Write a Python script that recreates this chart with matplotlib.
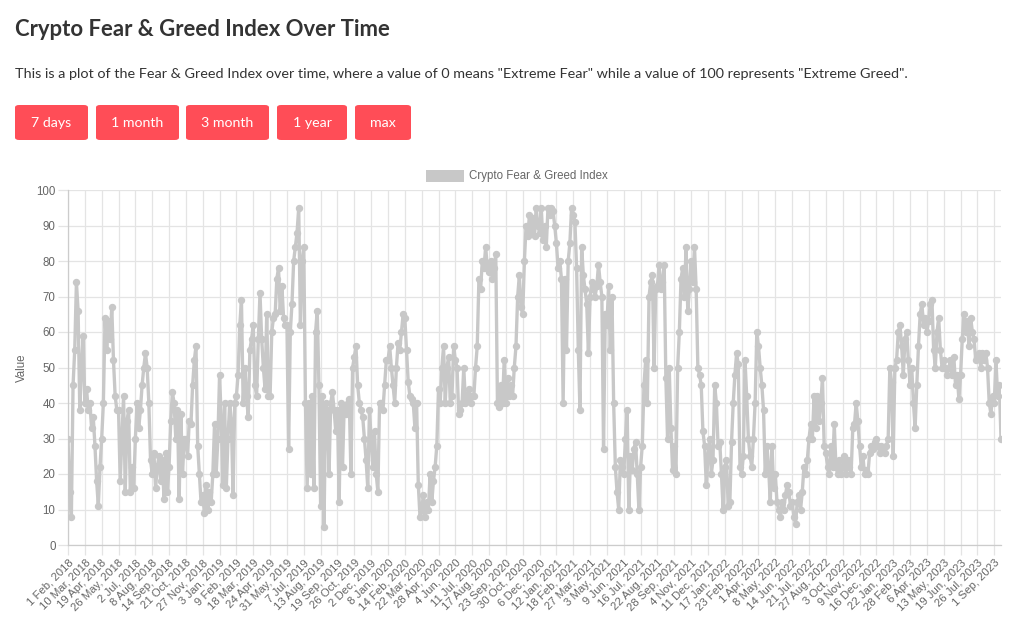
import matplotlib
matplotlib.use("Agg")
import matplotlib.pyplot as plt
from matplotlib.patches import FancyBboxPatch
import numpy as np

# x-axis tick labels (Chart.js auto-skipped category labels)
tick_labels = [
    "1 Feb, 2018", "10 Mar, 2018", "19 Apr, 2018", "26 May, 2018", "2 Jul, 2018",
    "8 Aug, 2018", "14 Sep, 2018", "21 Oct, 2018", "27 Nov, 2018", "3 Jan, 2019",
    "9 Feb, 2019", "18 Mar, 2019", "24 Apr, 2019", "31 May, 2019", "7 Jul, 2019",
    "13 Aug, 2019", "19 Sep, 2019", "26 Oct, 2019", "2 Dec, 2019", "8 Jan, 2020",
    "14 Feb, 2020", "22 Mar, 2020", "28 Apr, 2020", "4 Jun, 2020", "11 Jul, 2020",
    "17 Aug, 2020", "23 Sep, 2020", "30 Oct, 2020", "6 Dec, 2020", "12 Jan, 2021",
    "18 Feb, 2021", "27 Mar, 2021", "3 May, 2021", "9 Jun, 2021", "16 Jul, 2021",
    "22 Aug, 2021", "28 Sep, 2021", "4 Nov, 2021", "11 Dec, 2021", "17 Jan, 2022",
    "23 Feb, 2022", "1 Apr, 2022", "8 May, 2022", "14 Jun, 2022", "21 Jul, 2022",
    "27 Aug, 2022", "3 Oct, 2022", "9 Nov, 2022", "16 Dec, 2022", "22 Jan, 2023",
    "28 Feb, 2023", "6 Apr, 2023", "13 May, 2023", "19 Jun, 2023", "26 Jul, 2023",
    "1 Sep, 2023",
]
points_per_tick = 10

# index values, one row per labelled interval
fng_values = [
    30, 15, 8, 45, 55, 74, 66, 38, 50, 59,
    40, 44, 38, 40, 33, 36, 28, 18, 11, 22,
    30, 40, 64, 55, 63, 58, 67, 52, 42, 38,
    38, 18, 30, 42, 15, 35, 38, 15, 22, 16,
    30, 40, 33, 38, 45, 50, 54, 50, 40, 24,
    20, 26, 16, 22, 25, 18, 24, 13, 26, 15,
    22, 35, 43, 40, 30, 38, 13, 37, 20, 30,
    30, 25, 35, 34, 45, 52, 56, 28, 20, 12,
    14, 9, 17, 10, 15, 12, 20, 34, 20, 30,
    48, 35, 17, 40, 16, 30, 40, 35, 14, 40,
    42, 48, 62, 69, 40, 50, 42, 36, 55, 58,
    62, 45, 42, 58, 71, 58, 50, 44, 65, 42,
    42, 60, 64, 65, 75, 78, 66, 73, 64, 62,
    62, 27, 60, 68, 80, 84, 88, 95, 62, 80,
    84, 40, 16, 40, 20, 42, 16, 60, 66, 45,
    11, 42, 5, 40, 38, 20, 40, 43, 38, 32,
    38, 12, 40, 22, 39, 37, 40, 41, 20, 50,
    53, 56, 45, 40, 38, 36, 30, 24, 16, 38,
    30, 22, 32, 20, 15, 40, 40, 38, 45, 52,
    52, 56, 50, 45, 40, 50, 57, 55, 60, 65,
    64, 55, 46, 42, 41, 40, 33, 40, 17, 8,
    10, 14, 8, 12, 10, 20, 12, 18, 22, 28,
    44, 40, 50, 56, 40, 50, 53, 40, 42, 56,
    52, 50, 37, 38, 40, 50, 40, 41, 44, 40,
    42, 42, 50, 56, 75, 72, 80, 78, 84, 78,
    77, 80, 75, 78, 82, 40, 39, 45, 40, 52,
    40, 47, 42, 45, 42, 50, 56, 70, 76, 67,
    65, 80, 90, 87, 93, 88, 92, 87, 95, 90,
    88, 95, 86, 90, 84, 95, 93, 95, 94, 90,
    85, 78, 80, 75, 40, 75, 55, 80, 85, 95,
    93, 91, 78, 55, 38, 84, 76, 72, 68, 54,
    70, 74, 72, 70, 73, 79, 74, 70, 27, 65,
    62, 73, 55, 70, 40, 22, 15, 10, 24, 22,
    20, 30, 38, 10, 25, 21, 27, 29, 20, 10,
    22, 28, 45, 52, 40, 70, 74, 76, 50, 72,
    73, 79, 72, 74, 79, 47, 30, 50, 33, 21,
    28, 20, 50, 60, 75, 78, 70, 84, 66, 72,
    80, 74, 84, 72, 50, 48, 45, 32, 28, 17,
    25, 30, 20, 24, 45, 40, 28, 29, 20, 10,
    22, 24, 11, 12, 29, 40, 48, 54, 51, 22,
    20, 25, 52, 42, 30, 25, 22, 30, 40, 60,
    56, 50, 45, 38, 20, 28, 22, 12, 28, 16,
    20, 12, 10, 8, 12, 10, 14, 17, 15, 11,
    12, 8, 6, 12, 14, 10, 15, 22, 20, 24,
    30, 34, 30, 42, 33, 42, 35, 40, 47, 28,
    26, 22, 20, 28, 22, 34, 22, 20, 24, 20,
    22, 25, 20, 24, 22, 20, 33, 34, 40, 35,
    28, 22, 25, 20, 21, 20, 26, 28, 27, 29,
    30, 28, 26, 28, 27, 26, 28, 30, 50, 46,
    25, 50, 52, 60, 62, 56, 48, 58, 60, 52,
    45, 50, 40, 33, 45, 56, 65, 68, 62, 64,
    60, 63, 68, 69, 55, 50, 60, 64, 55, 50,
    52, 50, 48, 50, 52, 48, 53, 45, 48, 41,
    48, 58, 65, 60, 63, 56, 64, 60, 58, 52,
    53, 54, 50, 54, 52, 54, 50, 40, 37, 42,
    40, 52, 42, 45, 30,
]

button_labels = ["7 days", "1 month", "3 month", "1 year", "max"]

LINE_GREY = "#c8c8c8"
TEXT_DARK = "#333333"
AXIS_TEXT = "#666666"
GRID = "#e4e4e4"
BUTTON_RED = "#ff4d57"

W, H = 1024, 625
fig = plt.figure(figsize=(W / 100, H / 100), dpi=100)
fig.patch.set_facecolor("white")


def fx(px):
    return px / W


def fy(py):
    return 1 - py / H


# page header
fig.text(fx(15), fy(29), "Crypto Fear & Greed Index Over Time", fontsize=15.9,
         fontweight="bold", color=TEXT_DARK, family="Lato", va="center")
fig.text(fx(15), fy(74),
         'This is a plot of the Fear & Greed Index over time, where a value of 0 '
         'means "Extreme Fear" while a value of 100 represents "Extreme Greed".',
         fontsize=10.4, color=TEXT_DARK, family="Lato", va="center")

# buttons (left edge, width in px)
button_boxes = [(15, 73), (96, 83), (186, 83), (277, 70), (355, 56)]
for label, (bx, bw) in zip(button_labels, button_boxes):
    patch = FancyBboxPatch((fx(bx), fy(140)), fx(bw), 35 / H,
                           boxstyle="round,pad=0,rounding_size=0.004",
                           transform=fig.transFigure, facecolor=BUTTON_RED,
                           edgecolor="none")
    fig.patches.append(patch)
    fig.text(fx(bx + bw / 2), fy(123), label, fontsize=10.2, color="white",
             family="Lato", ha="center", va="center")

# chart area
ax = fig.add_axes([fx(68), fy(545), fx(1001 - 68), (545 - 190) / H])
x = np.arange(len(fng_values))
ax.plot(x, fng_values, color=LINE_GREY, linewidth=2.4, marker="o",
        markersize=4.3, markerfacecolor=LINE_GREY, markeredgecolor=LINE_GREY,
        label="Crypto Fear & Greed Index", zorder=3)

ax.set_xlim(0, len(fng_values) - 1)
ax.set_ylim(0, 100)
ax.set_yticks(np.arange(0, 101, 10))
ax.set_xticks(np.arange(len(tick_labels)) * points_per_tick)
ax.set_xticklabels(tick_labels, rotation=45, ha="right", rotation_mode="anchor",
                   family="Liberation Sans", fontsize=8.2, color=AXIS_TEXT)
for lab in ax.get_yticklabels():
    lab.set_family("Liberation Sans")
    lab.set_fontsize(8.3)
    lab.set_color(AXIS_TEXT)

ax.grid(True, color=GRID, linewidth=0.9)
ax.set_axisbelow(True)
ax.tick_params(axis="both", length=7, color=GRID, width=0.9, pad=2)
for side in ("top", "right"):
    ax.spines[side].set_visible(False)
for side in ("left", "bottom"):
    ax.spines[side].set_color("#cccccc")
    ax.spines[side].set_linewidth(0.9)

ax.set_ylabel("Value", family="Liberation Sans", fontsize=8.3, color=AXIS_TEXT,
              labelpad=6)

# legend box above the plot, Chart.js style
fig.patches.append(plt.Rectangle((fx(426), fy(182)), fx(38), 12 / H,
                                 transform=fig.transFigure, facecolor=LINE_GREY,
                                 edgecolor="none"))
fig.text(fx(469), fy(176), "Crypto Fear & Greed Index", family="Liberation Sans",
         fontsize=8.3, color=AXIS_TEXT, va="center")

fig.savefig("out.png", dpi=100)
